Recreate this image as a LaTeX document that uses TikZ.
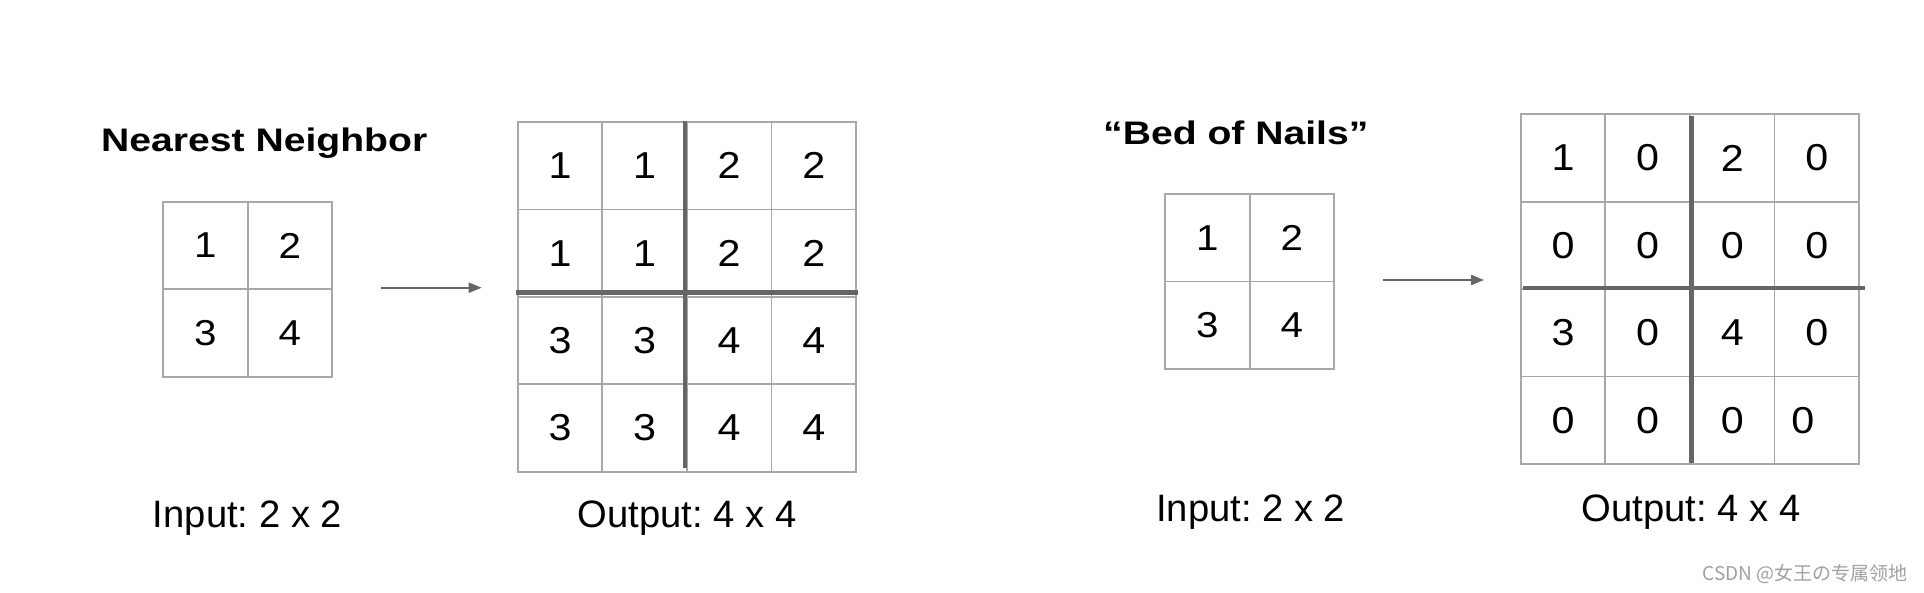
\documentclass[tikz,border=0pt]{standalone}
\usepackage{fontspec}
\usepackage{graphicx}
\setmainfont{Liberation Sans}
\newfontfamily\cjkfont{Noto Sans CJK SC}
\usetikzlibrary{arrows.meta}
\frenchspacing
\definecolor{gridgray}{HTML}{A8A8A8}
\definecolor{thickgray}{HTML}{666666}
\definecolor{markgray}{HTML}{A0A0A0}
\newcommand{\innum}[1]{\scalebox{1.12}[1]{#1}}
\newcommand{\outnum}[1]{\scalebox{1.1}[1]{#1}}
\begin{document}
\begin{tikzpicture}[x=1pt,y=-1pt,
  cell/.style={draw=gridgray, line width=1.8pt, minimum width=84.6pt, minimum height=87.4pt,
    inner sep=0pt, outer sep=0pt, text=black, font=\fontsize{36}{43}\selectfont},
  bigcell/.style={cell, font=\fontsize{37.5}{45}\selectfont},
  heavy/.style={draw=thickgray, line width=4.5pt},
  conn/.style={draw=thickgray, line width=2pt, -{Triangle[length=13pt,width=10pt]}},
  titletext/.style={inner sep=0pt, text=black, font=\bfseries\fontsize{32.6}{39}\selectfont},
  lbl/.style={inner sep=0pt, text=black, anchor=base, font=\fontsize{38.2}{45}\selectfont}]
\useasboundingbox (0,0) rectangle (1924,592);
\fill[white] (0,0) rectangle (1924,592);

% ---------- Nearest Neighbor ----------
\node[titletext, anchor=base west] (t1) at (101,151) {\scalebox{1.2}[1]{Nearest Neighbor}};

\node[cell] (a11) at (205.3,245.5) {\innum{1}};
\node[cell] (a12) at (289.9,245.5) {\innum{2}};
\node[cell] (a21) at (205.3,332.9) {\innum{3}};
\node[cell] (a22) at (289.9,332.9) {\innum{4}};

\node[bigcell] (p11) at (560.0,165.7) {\outnum{1}};
\node[bigcell] (p12) at (644.6,165.7) {\outnum{1}};
\node[bigcell] (p13) at (729.2,165.7) {\outnum{2}};
\node[bigcell] (p14) at (813.8,165.7) {\outnum{2}};
\node[bigcell] (p21) at (560.0,253.1) {\outnum{1}};
\node[bigcell] (p22) at (644.6,253.1) {\outnum{1}};
\node[bigcell] (p23) at (729.2,253.1) {\outnum{2}};
\node[bigcell] (p24) at (813.8,253.1) {\outnum{2}};
\node[bigcell] (p31) at (560.0,340.5) {\outnum{3}};
\node[bigcell] (p32) at (644.6,340.5) {\outnum{3}};
\node[bigcell] (p33) at (729.2,340.5) {\outnum{4}};
\node[bigcell] (p34) at (813.8,340.5) {\outnum{4}};
\node[bigcell] (p41) at (560.0,427.9) {\outnum{3}};
\node[bigcell] (p42) at (644.6,427.9) {\outnum{3}};
\node[bigcell] (p43) at (729.2,427.9) {\outnum{4}};
\node[bigcell] (p44) at (813.8,427.9) {\outnum{4}};

\draw[heavy] (685,120.7) -- (685,468);
\draw[heavy] (516,292.7) -- (857.7,292.7);

\coordinate (ar1s) at (381,287.7);
\coordinate (ar1e) at (481.7,287.7);
\draw[conn] (ar1s) -- (ar1e);

\node[lbl] (l1) at (247.5,527.7) {Input: 2 x 2};
\node[lbl] (l2) at (687,527.7) {Output: 4 x 4};

% ---------- Bed of Nails ----------
\node[titletext, anchor=base west] (t2) at (1103,144) {\scalebox{1.2}[1]{“Bed of Nails”}};

\node[cell] (b11) at (1207.3,237.7) {\innum{1}};
\node[cell] (b12) at (1291.9,237.7) {\innum{2}};
\node[cell] (b21) at (1207.3,325.1) {\innum{3}};
\node[cell] (b22) at (1291.9,325.1) {\innum{4}};

\node[bigcell] (q11) at (1563.0,158.0) {\outnum{1}};
\node[bigcell] (q12) at (1647.6,158.0) {\outnum{0}};
\node[bigcell] (q13) at (1732.2,158.0) {\outnum{2}};
\node[bigcell] (q14) at (1816.8,158.0) {\outnum{0}};
\node[bigcell] (q21) at (1563.0,245.4) {\outnum{0}};
\node[bigcell] (q22) at (1647.6,245.4) {\outnum{0}};
\node[bigcell] (q23) at (1732.2,245.4) {\outnum{0}};
\node[bigcell] (q24) at (1816.8,245.4) {\outnum{0}};
\node[bigcell] (q31) at (1563.0,332.8) {\outnum{3}};
\node[bigcell] (q32) at (1647.6,332.8) {\outnum{0}};
\node[bigcell] (q33) at (1732.2,332.8) {\outnum{4}};
\node[bigcell] (q34) at (1816.8,332.8) {\outnum{0}};
\node[bigcell] (q41) at (1563.0,420.2) {\outnum{0}};
\node[bigcell] (q42) at (1647.6,420.2) {\outnum{0}};
\node[bigcell] (q43) at (1732.2,420.2) {\outnum{0}};
\node[bigcell] (q44) at (1816.8,420.2) {\hspace*{-28pt}\outnum{0}};

\draw[heavy] (1691.7,116) -- (1691.7,463.3);
\draw[heavy] (1522.7,288) -- (1864.7,288);

\coordinate (ar2s) at (1383,280);
\coordinate (ar2e) at (1484,280);
\draw[conn] (ar2s) -- (ar2e);

\node[lbl] (l3) at (1250.7,521.7) {Input: 2 x 2};
\node[lbl] (l4) at (1691,521.7) {Output: 4 x 4};

\node[anchor=base east, inner sep=0pt, text=markgray, font=\cjkfont\fontsize{19}{22}\selectfont] (wm) at (1908,580) {CSDN @女王の专属领地};
\end{tikzpicture}
\end{document}
